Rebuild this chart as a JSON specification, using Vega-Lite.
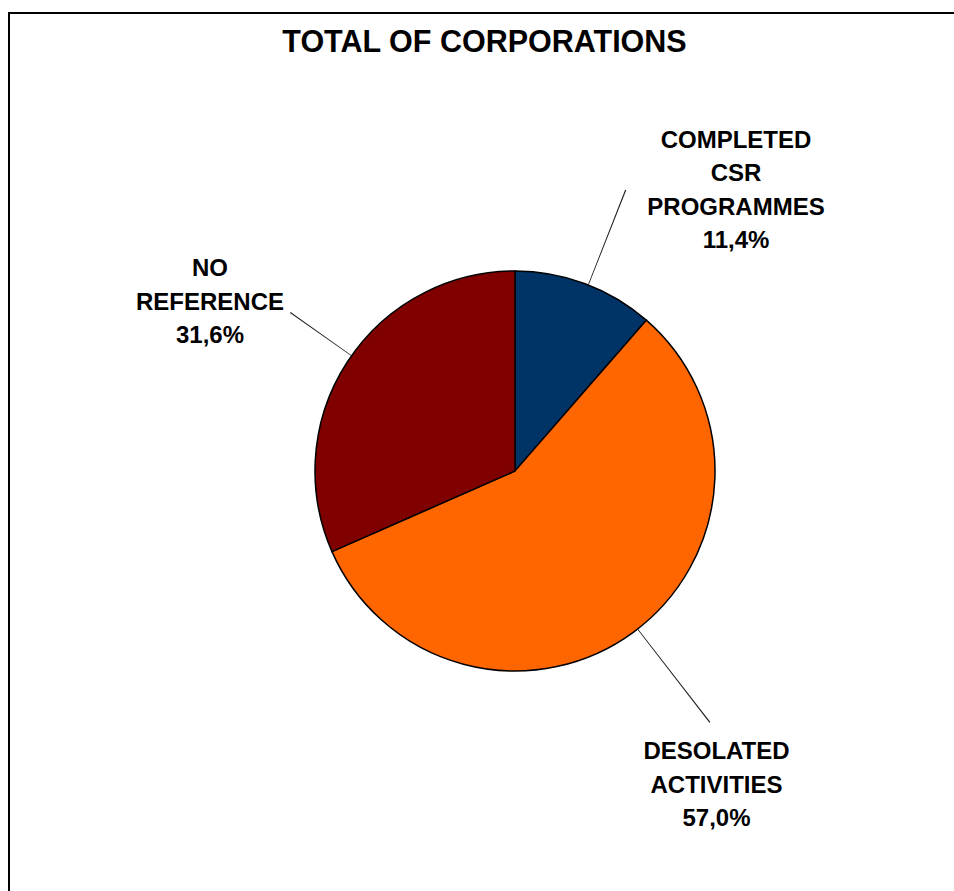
{
  "$schema": "https://vega.github.io/schema/vega-lite/v6.json",
  "width": 945,
  "height": 878,
  "autosize": {"type": "none"},
  "padding": {"left": 9, "top": 13, "right": 0, "bottom": 0},
  "background": "white",
  "view": {"stroke": "#000000", "strokeWidth": 2, "strokeDash": [945, 1823, 878, 10]},
  "title": {
    "text": "TOTAL OF CORPORATIONS",
    "anchor": "middle",
    "frame": "group",
    "font": "Liberation Sans",
    "fontSize": 30.5,
    "fontWeight": "bold",
    "color": "#000000",
    "offset": -45,
    "dx": 3
  },
  "data": {
    "values": [
      {"category": "COMPLETED CSR PROGRAMMES", "label": "COMPLETED\nCSR\nPROGRAMMES\n11,4%", "value": 11.4},
      {"category": "DESOLATED ACTIVITIES", "label": "DESOLATED\nACTIVITIES\n57,0%", "value": 57.0},
      {"category": "NO REFERENCE", "label": "NO\nREFERENCE\n31,6%", "value": 31.6}
    ]
  },
  "transform": [
    {"stack": "value", "groupby": [], "sort": [{"field": "category", "order": "ascending"}], "as": ["v0", "v1"]}
  ],
  "layer": [
    {
      "mark": {"type": "arc", "outerRadius": 200, "stroke": "#000000", "strokeWidth": 1.5, "x": 506, "y": 458},
      "encoding": {
        "theta": {"field": "v0", "type": "quantitative", "scale": {"domain": [0, 100]}},
        "theta2": {"field": "v1"},
        "color": {
          "field": "category",
          "type": "nominal",
          "scale": {"domain": ["COMPLETED CSR PROGRAMMES", "DESOLATED ACTIVITIES", "NO REFERENCE"], "range": ["#003366", "#FF6600", "#800000"]},
          "legend": null
        }
      }
    },
    {
      "transform": [{"filter": "datum.category === 'COMPLETED CSR PROGRAMMES'"}],
      "mark": {"type": "arc", "innerRadius": 200, "outerRadius": 302, "thetaOffset": 0.3732, "theta2Offset": -0.33908, "fill": "#222222", "x": 506, "y": 458},
      "encoding": {
        "theta": {"field": "v0", "type": "quantitative", "scale": {"domain": [0, 100]}},
        "theta2": {"field": "v1"}
      }
    },
    {
      "transform": [{"filter": "datum.category === 'DESOLATED ACTIVITIES'"}],
      "mark": {"type": "arc", "innerRadius": 200, "outerRadius": 318, "thetaOffset": 1.76362, "theta2Offset": -1.8138, "fill": "#222222", "x": 506, "y": 458},
      "encoding": {
        "theta": {"field": "v0", "type": "quantitative", "scale": {"domain": [0, 100]}},
        "theta2": {"field": "v1"}
      }
    },
    {
      "transform": [{"filter": "datum.category === 'NO REFERENCE'"}],
      "mark": {"type": "arc", "innerRadius": 200, "outerRadius": 275, "thetaOffset": 1.0271, "theta2Offset": -0.95439, "fill": "#222222", "x": 506, "y": 458},
      "encoding": {
        "theta": {"field": "v0", "type": "quantitative", "scale": {"domain": [0, 100]}},
        "theta2": {"field": "v1"}
      }
    },
    {
      "transform": [{"filter": "datum.category === 'COMPLETED CSR PROGRAMMES'"}],
      "mark": {"type": "text", "radius": 397.2, "thetaOffset": 0.5901, "x": 506, "y": 458, "font": "Liberation Sans", "fontSize": 24, "fontWeight": "bold", "lineBreak": "\n", "lineHeight": 33.5, "align": "center", "baseline": "middle", "color": "#000000"},
      "encoding": {
        "theta": {"field": "v0", "type": "quantitative", "scale": {"domain": [0, 100]}},
        "text": {"field": "label", "type": "nominal"}
      }
    },
    {
      "transform": [{"filter": "datum.category === 'DESOLATED ACTIVITIES'"}],
      "mark": {"type": "text", "radius": 345.8, "thetaOffset": 1.8033, "x": 506, "y": 458, "font": "Liberation Sans", "fontSize": 24, "fontWeight": "bold", "lineBreak": "\n", "lineHeight": 33.5, "align": "center", "baseline": "middle", "color": "#000000"},
      "encoding": {
        "theta": {"field": "v0", "type": "quantitative", "scale": {"domain": [0, 100]}},
        "text": {"field": "label", "type": "nominal"}
      }
    },
    {
      "transform": [{"filter": "datum.category === 'NO REFERENCE'"}],
      "mark": {"type": "text", "radius": 365.8, "thetaOffset": 0.9996, "x": 506, "y": 458, "font": "Liberation Sans", "fontSize": 24, "fontWeight": "bold", "lineBreak": "\n", "lineHeight": 33.5, "align": "center", "baseline": "middle", "color": "#000000"},
      "encoding": {
        "theta": {"field": "v0", "type": "quantitative", "scale": {"domain": [0, 100]}},
        "text": {"field": "label", "type": "nominal"}
      }
    }
  ],
  "config": {
    "style": {"view": {"stroke": "#000000", "strokeWidth": 2, "strokeDash": [945, 1823, 878, 10]}}
  }
}
